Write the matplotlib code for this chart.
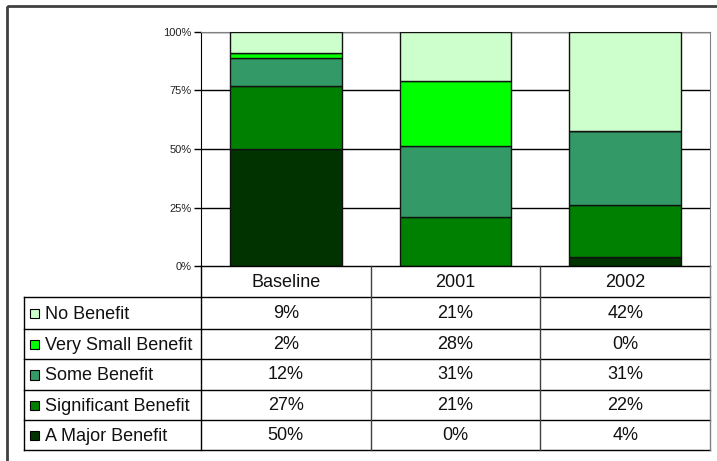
import numpy as np
import matplotlib
matplotlib.use("Agg")
import matplotlib.pyplot as plt
from matplotlib.patches import Rectangle
from matplotlib.lines import Line2D

plt.rcParams['font.family'] = ['Liberation Sans', 'DejaVu Sans']

# data (table rows top-down, as in the chart)
periods = ['Baseline', '2001', '2002']
categories = ['No Benefit', 'Very Small Benefit', 'Some Benefit',
              'Significant Benefit', 'A Major Benefit']
no_benefit = [9, 21, 42]
very_small = [2, 28, 0]
some_benefit = [12, 31, 31]
significant = [27, 21, 22]
major = [50, 0, 4]
colors = ['#CCFFCC', '#00FF00', '#339966', '#008000', '#003300']
yticks = [0, 25, 50, 75, 100]

rows = [no_benefit, very_small, some_benefit, significant, major]

W, H = 717, 461
fig = plt.figure(figsize=(W / 100, H / 100), dpi=100)

# pixel layout
ax_l, ax_r, ax_t, ax_b = 201, 710, 32, 266
ax = fig.add_axes([ax_l / W, 1 - ax_b / H, (ax_r - ax_l) / W, (ax_b - ax_t) / H])

# 100% stacked bars, bottom series is the last table row
vals = np.array(rows, dtype=float)
pct = vals / vals.sum(axis=0) * 100
x = np.arange(len(periods))
bottom = np.zeros(len(periods))
for i in range(len(categories) - 1, -1, -1):
    ax.bar(x, pct[i], 0.66, bottom=bottom, color=colors[i],
           edgecolor='#111111', linewidth=1, zorder=3)
    bottom += pct[i]

ax.set_xlim(-0.5, len(periods) - 0.5)
ax.set_ylim(0, 100)
ax.set_yticks(yticks)
ax.set_yticklabels([f'{t}%' for t in yticks], fontsize=8, color='#222222')
ax.set_xticks([])
ax.tick_params(axis='y', length=5, width=1, pad=2)
for t in yticks[1:]:
    ax.axhline(t, color='black', linewidth=1, zorder=1)
ax.spines['top'].set_color('#808080')
ax.spines['right'].set_color('#808080')
ax.spines['bottom'].set_visible(False)
ax.spines['left'].set_color('black')

# data table drawn in pixel coordinates
tab = fig.add_axes([0, 0, 1, 1])
tab.set_xlim(0, W)
tab.set_ylim(H, 0)
tab.axis('off')

col_edges = [24, ax_l] + [ax_l + (ax_r - ax_l) * (k + 1) / len(periods) for k in range(len(periods))]
row_edges = [266, 297, 329, 359, 390, 420, 450]

def hline(y, x0, x1, c='black'):
    tab.add_line(Line2D([x0, x1], [y, y], color=c, linewidth=1))

def vline(xp, y0, y1, c='black'):
    tab.add_line(Line2D([xp, xp], [y0, y1], color=c, linewidth=1))

hline(row_edges[0], ax_l, ax_r)
for y in row_edges[1:]:
    hline(y, col_edges[0], ax_r)
vline(col_edges[0], row_edges[1], row_edges[-1])
vline(col_edges[1], row_edges[0], row_edges[-1])
for xe in col_edges[2:-1]:
    vline(xe, row_edges[0], row_edges[-1], c='#404040')
vline(col_edges[-1], row_edges[0], row_edges[-1], c='#808080')

fs = 13
for j, p in enumerate(periods):
    cx = (col_edges[j + 1] + col_edges[j + 2]) / 2
    tab.text(cx, (row_edges[0] + row_edges[1]) / 2 + 1, p, ha='center',
             va='center', fontsize=fs, color='#111111')

for i, name in enumerate(categories):
    cy = (row_edges[i + 1] + row_edges[i + 2]) / 2
    tab.add_patch(Rectangle((29.5, cy - 4.5), 9.5, 9.5, facecolor=colors[i],
                            edgecolor='black', linewidth=0.8))
    tab.text(45, cy + 1, name, ha='left', va='center', fontsize=fs,
             color='#111111')
    for j in range(len(periods)):
        cx = (col_edges[j + 1] + col_edges[j + 2]) / 2
        tab.text(cx, cy, f'{rows[i][j]}%', ha='center', va='center',
                 fontsize=fs, color='#111111')

# outer chart border (only top and left fall inside the image)
tab.add_patch(Rectangle((7, 6), W + 20, H + 20, fill=False,
                        edgecolor='#404040', linewidth=2))

fig.savefig('out.png', dpi=100)
